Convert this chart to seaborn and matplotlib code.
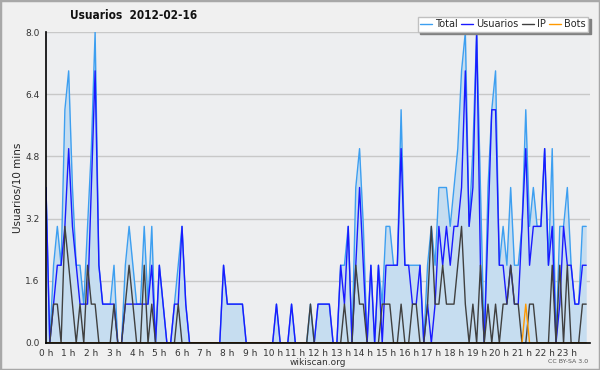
import numpy as np
import pandas as pd
import matplotlib
matplotlib.use("Agg")
import matplotlib.pyplot as plt
import seaborn as sns
from matplotlib.patches import Rectangle
from matplotlib.lines import Line2D

# valores cada 10 minutos (144 puntos)
usuarios = [4, 0, 1, 2, 2, 3, 5, 3, 2, 1, 1, 1, 4, 7, 2, 1, 1, 1, 1, 0, 0, 1, 1, 1,
            1, 1, 1, 1, 2, 0, 2, 1, 0, 0, 1, 1, 3, 1, 0, 0, 0, 0, 0, 0, 0, 0, 0, 2,
            1, 1, 1, 1, 1, 0, 0, 0, 0, 0, 0, 0, 0, 1, 0, 0, 0, 1, 0, 0, 0, 0, 0, 0,
            1, 1, 1, 1, 0, 0, 2, 1, 3, 0, 2, 4, 2, 0, 2, 0, 2, 0, 2, 2, 2, 2, 5, 2,
            2, 1, 1, 2, 0, 1, 0, 1, 3, 2, 3, 2, 3, 3, 4, 7, 3, 4, 8, 2, 0, 3, 6, 6,
            2, 2, 1, 2, 1, 1, 3, 5, 2, 3, 3, 3, 5, 2, 3, 0, 1, 3, 2, 2, 1, 1, 2, 2]
ip = [0, 0, 1, 1, 0, 3, 2, 1, 0, 1, 0, 2, 1, 1, 0, 0, 0, 0, 1, 0, 0, 1, 2, 1,
      0, 0, 2, 0, 1, 0, 0, 0, 0, 0, 0, 1, 0, 0, 0, 0, 0, 0, 0, 0, 0, 0, 0, 0,
      0, 0, 0, 0, 0, 0, 0, 0, 0, 0, 0, 0, 0, 0, 0, 0, 0, 0, 0, 0, 0, 0, 1, 0,
      0, 0, 0, 0, 0, 0, 0, 1, 0, 0, 2, 1, 1, 0, 0, 0, 0, 1, 1, 1, 0, 0, 1, 0,
      0, 1, 1, 0, 0, 1, 3, 1, 1, 2, 1, 1, 1, 2, 3, 1, 0, 1, 0, 2, 0, 1, 0, 1,
      0, 1, 1, 2, 1, 1, 0, 0, 1, 1, 0, 0, 0, 0, 2, 0, 2, 0, 2, 0, 0, 0, 1, 1]
bots = [0] * 127 + [1] + [0] * 16
total = [4, 0, 2, 3, 2, 6, 7, 4, 2, 2, 1, 3, 5, 8, 2, 1, 1, 1, 2, 0, 0, 2, 3, 2,
         1, 1, 3, 1, 3, 0, 2, 1, 0, 0, 1, 2, 3, 1, 0, 0, 0, 0, 0, 0, 0, 0, 0, 2,
         1, 1, 1, 1, 1, 0, 0, 0, 0, 0, 0, 0, 0, 1, 0, 0, 0, 1, 0, 0, 0, 0, 1, 0,
         1, 1, 1, 1, 0, 0, 2, 2, 3, 0, 4, 5, 3, 0, 2, 0, 2, 1, 3, 3, 2, 2, 6, 2,
         2, 2, 2, 2, 0, 2, 3, 2, 4, 4, 4, 3, 4, 5, 7, 8, 3, 5, 8, 4, 0, 4, 6, 7,
         2, 3, 2, 4, 2, 2, 3, 6, 3, 4, 3, 3, 5, 2, 5, 0, 3, 3, 4, 2, 1, 1, 3, 3]

hours = np.arange(144) / 6
series = ["Total", "Usuarios", "IP", "Bots"]
colors = ["#3d9ff0", "#1a1aff", "#404040", "#ff9900"]
hour_labels = [f"{h} h" for h in range(24)]
y_ticks = [0.0, 1.6, 3.2, 4.8, 6.4, 8.0]

df = pd.DataFrame({"hora": hours, "Total": total, "Usuarios": usuarios, "IP": ip, "Bots": bots})
long_df = df.melt(id_vars="hora", var_name="serie", value_name="valor")

sns.set_style("white")
plt.rcParams["font.family"] = ["DejaVu Sans"]

fig = plt.figure(figsize=(6, 3.7), dpi=100, facecolor="#f0f0f0")
fig.patches.append(Rectangle((0, 0), 1, 1, transform=fig.transFigure, fill=False,
                             edgecolor="#a8a8a8", linewidth=2.5))
ax = fig.add_axes([46 / 600, 27 / 370, 544 / 600, 311 / 370])
ax.set_facecolor("#edeef0")

ax.fill_between(hours, total, color="#c6ddf0", linewidth=0, zorder=1)
sns.lineplot(data=long_df, x="hora", y="valor", hue="serie", hue_order=series,
             palette=dict(zip(series, colors)), linewidth=1, ax=ax, legend=False, zorder=2)

ax.set_xlim(0, 24)
ax.set_ylim(0, 8)
ax.set_xticks(range(24))
ax.set_xticklabels(hour_labels, fontsize=6.5, color="#333333")
ax.set_xticks(np.arange(0, 24, 1 / 6), minor=True)
ax.set_yticks(y_ticks)
ax.set_yticklabels([f"{v:.1f}" for v in y_ticks], fontsize=6.5, color="#333333")
ax.set_yticks(np.arange(0, 8.01, 0.4), minor=True)
ax.tick_params(axis="both", which="major", length=4, width=1, color="black", pad=0.5)
ax.tick_params(axis="x", which="major", pad=0)
ax.tick_params(axis="both", which="minor", length=3, width=1, color="black")
ax.yaxis.grid(True, color="#c8c8c8", linewidth=1)
ax.set_axisbelow(True)
for side in ["top", "right"]:
    ax.spines[side].set_visible(False)
for side in ["left", "bottom"]:
    ax.spines[side].set_color("black")
    ax.spines[side].set_linewidth(1.2)
    ax.spines[side].set_zorder(5)

ax.set_xlabel("wikiscan.org", fontsize=6.5, color="#333333", labelpad=0)
ax.set_ylabel("Usuarios/10 mins", fontsize=7.5, color="#222222", labelpad=2)

fig.text(0.222, 0.957, "Usuarios  2012-02-16", fontsize=8.5, fontweight="bold",
         fontstretch="condensed", ha="center", va="center", color="#111111")
fig.text(0.98, 0.022, "CC BY-SA 3.0", fontsize=4.5, ha="right", va="center", color="#555555")

handles = [Line2D([], [], color=c, linewidth=1) for c in colors]
leg = fig.legend(handles, series, loc="upper right", bbox_to_anchor=(0.98, 0.955), ncol=4,
                 fontsize=7, frameon=True, fancybox=False, handlelength=1.2,
                 handletextpad=0.3, columnspacing=0.4, borderpad=0.25, borderaxespad=0,
                 shadow={"color": "#808080", "alpha": 1})
leg.get_frame().set_edgecolor("#c0c0c0")
leg.get_frame().set_linewidth(1)

fig.savefig("out.png", dpi=100, facecolor=fig.get_facecolor())
